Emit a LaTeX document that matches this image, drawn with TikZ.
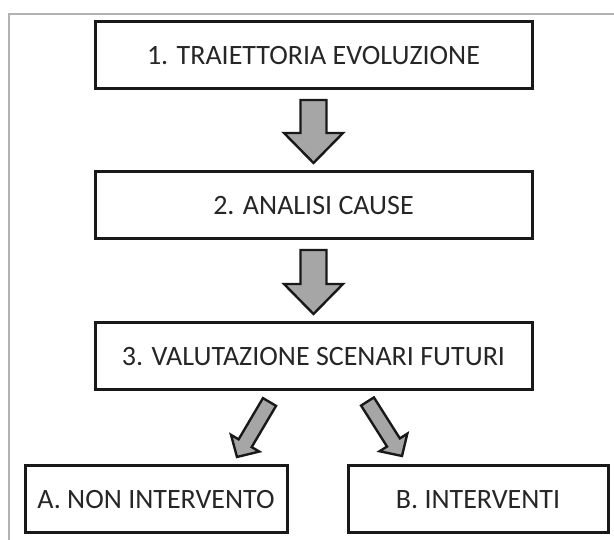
\documentclass[tikz,border=0pt]{standalone}
\usepackage{fontspec}
\setmainfont{Carlito}
\usetikzlibrary{calc}
\tikzset{
  box/.style={draw=black!90, line width=3pt, minimum height=67pt, outer sep=0pt, inner sep=0pt, text=black!85, font=\fontsize{28}{33}\selectfont},
  barrowstyle/.style={draw=black!90, fill=black!35, line width=2.4pt, line join=miter},
  framestyle/.style={draw=black!30, line width=1.5pt}
}
\newcommand\blockarrow[5]{%
  \coordinate (ba-h) at ($(#2)!#5!(#1)$);
  \draw[barrowstyle] ($(#1)!#3!90:(#2)$) -- ($(ba-h)!#3!-90:(#1)$) -- ($(ba-h)!#4!-90:(#1)$) -- (#2) -- ($(ba-h)!#4!90:(#1)$) -- ($(ba-h)!#3!90:(#1)$) -- ($(#1)!#3!-90:(#2)$) -- cycle;
}
\begin{document}
\begin{tikzpicture}[x=1pt,y=1pt]
\useasboundingbox (0,0) rectangle (614,540);
\draw[framestyle] (9,0) -- (9,526) -- (614,526);

\node[box, minimum width=437pt] (b1) at (313.5,484.5) {1. TRAIETTORIA EVOLUZIONE};
\node[box, minimum width=437pt] (b2) at (313.5,334.5) {2. ANALISI CAUSE};
\node[box, minimum width=437pt] (b3) at (313.5,183.5) {3. VALUTAZIONE SCENARI FUTURI};
\node[box, minimum width=262pt] (bA) at (156,40.5) {A. NON INTERVENTO};
\node[box, minimum width=260pt] (bB) at (478,40.5) {B. INTERVENTI};

\coordinate (a1s) at ($(b1.south)+(0,-11)$);
\coordinate (a1t) at ($(b2.north)+(0,9)$);
\coordinate (a2s) at ($(b2.south)+(0,-11)$);
\coordinate (a2t) at ($(b3.north)+(0,9)$);
\coordinate (a3s) at ($(b3.south)+(-44,-12)$);
\coordinate (a3t) at ($(bA.north)+(81,9)$);
\coordinate (a4s) at ($(b3.south)+(54,-11.5)$);
\coordinate (a4t) at ($(bB.north)+(-76,10)$);

\blockarrow{a1s}{a1t}{13pt}{29.5pt}{30pt}
\blockarrow{a2s}{a2t}{13pt}{29.5pt}{30pt}
\blockarrow{a3s}{a3t}{7.6pt}{16.4pt}{16pt}
\blockarrow{a4s}{a4t}{7.6pt}{16.4pt}{16pt}
\end{tikzpicture}
\end{document}
